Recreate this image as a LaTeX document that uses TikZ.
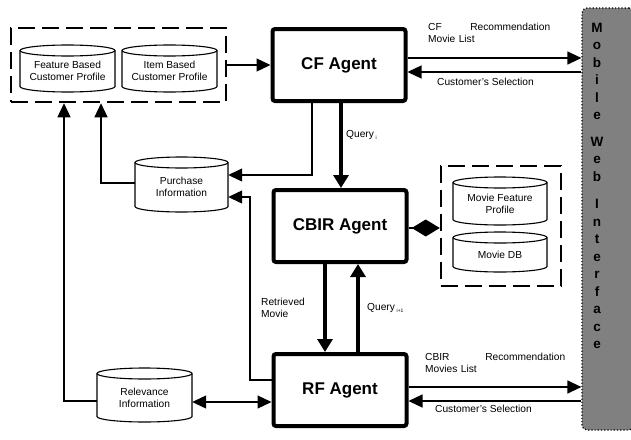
\documentclass[tikz,border=0pt]{standalone}
\usepackage{fontspec}
\setmainfont{Liberation Sans}
\usetikzlibrary{arrows.meta,fit}
\definecolor{mgray}{RGB}{128,128,128}
\tikzset{
  agent/.style={draw, line width=4pt, rounded corners=2.5pt, minimum width=133pt, minimum height=72pt, inner sep=0pt, font=\fontsize{17}{20}\selectfont\bfseries},
  dbox/.style={draw, line width=2.5pt, dash pattern=on 17pt off 7pt, inner sep=0pt},
  cylline/.style={draw, line width=1.1pt, fill=white},
  cyltext/.style={font=\fontsize{10.2}{12}\selectfont, align=center, inner sep=0pt},
  lbl/.style={font=\fontsize{10.2}{12}\selectfont, inner sep=0pt, align=left},
  thin/.style={line width=1.2pt},
  tip/.style={-{Triangle[length=14pt,width=13pt]}},
  thinarr/.style={thin, tip},
  dblarr/.style={thin, {Triangle[length=14pt,width=13pt]}-{Triangle[length=14pt,width=13pt]}},
  thickarr/.style={line width=4pt, -{Triangle[length=13pt,width=15pt]}},
  diamarr/.style={thin, -{Diamond[length=28pt,width=17pt]}},
  mwibox/.style={draw, fill=mgray, dotted, line width=1.2pt, rounded corners=5pt},
  mwitext/.style={font=\fontsize{13.5}{17.5}\selectfont\bfseries, align=center, inner sep=0pt},
}
\newcommand\dbcyl[6]{%
  \pgfmathsetmacro\cylrx{(#4-#2)/2}%
  \draw[cylline] (#2,#3+5.5) -- (#2,#5-5.5) arc[start angle=180,end angle=360,x radius=\cylrx pt,y radius=5.5pt] -- (#4,#3+5.5) arc[start angle=0,end angle=180,x radius=\cylrx pt,y radius=5.5pt] -- cycle;
  \draw[cylline, fill=none] (#2,#3+5.5) arc[start angle=180,end angle=360,x radius=\cylrx pt,y radius=5.5pt];
  \node[fit={(#2,#3) (#4,#5)}, inner sep=0pt] (#1) {};
  \node[cyltext] at ([yshift=-2.5pt]#1.center) {#6};
}
\begin{document}
\begin{tikzpicture}[x=1pt,y=-1pt]
\useasboundingbox (0,0) rectangle (631,439);

% mobile web interface
\node[mwibox, minimum width=52pt, minimum height=422pt] (mwi) at (608,219) {};
\node[mwitext, anchor=north] (mwit) at (597,23) {M\\o\\b\\i\\l\\e\\[9pt]W\\e\\b\\[10pt]I\\n\\t\\e\\r\\f\\a\\c\\e};

% agents
\node[agent] (cf) at (339,65) {CF Agent};
\node[agent] (cbir) at (340,226) {CBIR Agent};
\node[agent] (rf) at (340,390) {RF Agent};

% dashed groups
\node[dbox, minimum width=215pt, minimum height=74pt] (lbox) at (118.5,65) {};
\node[dbox, minimum width=120pt, minimum height=120pt] (rbox) at (501,226) {};

% databases
\dbcyl{fbcp}{20}{45}{115}{92}{Feature Based\\Customer Profile}
\dbcyl{ibcp}{122}{45}{217}{92}{Item Based\\Customer Profile}
\dbcyl{purch}{135}{157}{228}{212}{Purchase\\Information}
\dbcyl{rel}{97}{368}{192}{422}{Relevance\\Information}
\dbcyl{mfp}{453}{177}{547}{225}{Movie Feature\\Profile}
\dbcyl{mdb}{453}{232}{547}{272}{Movie DB}

% connectors
\draw[thinarr] (lbox.east) -- (cf.west);
\draw[thinarr] (cf.east |- 0,58) -- (mwi.west |- 0,58);
\draw[thinarr] (mwi.west |- 0,72) -- (cf.east |- 0,72);
\draw[thickarr] (cf.south -| 341,0) -- (cbir.north -| 341,0);
\draw[thinarr] (cf.south -| 312,0) |- (purch.east |- 0,175);
\draw[thinarr] (rf.west |- 0,380) -| (250,197) -- (purch.east |- 0,197);
\draw[thinarr] (purch.west |- 0,183) -| (lbox.south -| 101,0);
\draw[thinarr] (rel.west |- 0,401) -| (lbox.south -| 64,0);
\draw[dblarr] (rel.east |- 0,402) -- (rf.west |- 0,402);
\draw[thickarr] (cbir.south -| 325,0) -- (rf.north -| 325,0);
\draw[thickarr] (rf.north -| 358,0) -- (cbir.south -| 358,0);
\draw[diamarr] (cbir.east |- 0,228) -- (rbox.west |- 0,228);
\draw[thinarr] (rf.east |- 0,387) -- (mwi.west |- 0,387);
\draw[thinarr] (mwi.west |- 0,401) -- (rf.east |- 0,401);

% labels
\node[lbl, anchor=north west, text width=122pt] (lcf) at (428,23) {CF\hfill Recommendation\\Movie List};
\node[lbl, anchor=west] (lcs1) at (437,82) {Customer's Selection};
\node[lbl, anchor=north west, text width=140pt] (lcb) at (425,353) {CBIR\hfill Recommendation\\Movies List};
\node[lbl, anchor=west] (lcs2) at (435,409) {Customer's Selection};
\node[lbl, anchor=west] (lq1) at (346,135) {Query\,\raisebox{-2pt}{\fontsize{5}{6}\selectfont i}};
\node[lbl, anchor=west] (lq2) at (367,308) {Query\,\raisebox{-2pt}{\fontsize{5}{6}\selectfont i+1}};
\node[lbl, anchor=north west] (lrm) at (261,298) {Retrieved\\Movie};
\end{tikzpicture}
\end{document}
